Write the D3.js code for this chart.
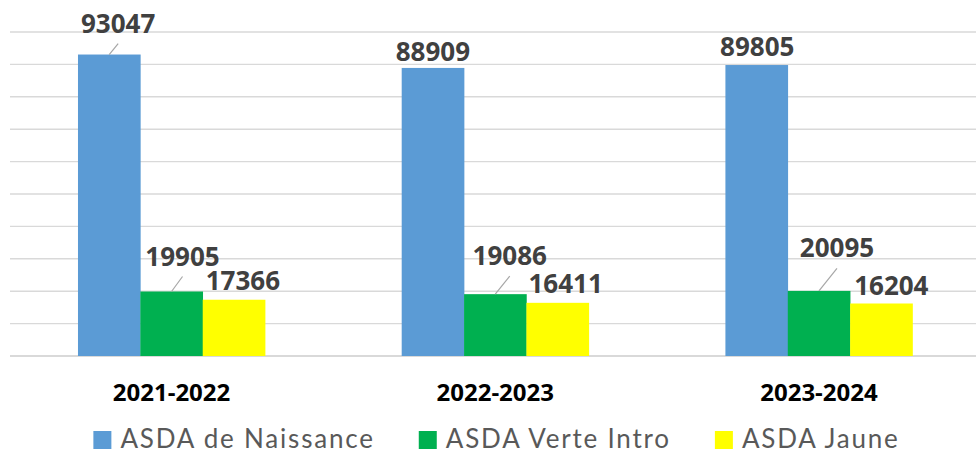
<html>
<head>
  <script src="https://d3js.org/d3.v7.min.js"></script>
  <style>
    body { margin: 0; background: #fff; }
  </style>
</head>
<body>
<script>
  // donnees
  var annees = ['2021-2022', '2022-2023', '2023-2024']
  var series = ['ASDA de Naissance', 'ASDA Verte Intro', 'ASDA Jaune']
  var naissance = [93047, 88909, 89805]
  var verte = [19905, 19086, 20095]
  var jaune = [17366, 16411, 16204]
  var graduations = [0, 10000, 20000, 30000, 40000, 50000, 60000, 70000, 80000, 90000, 100000]

  var couleurs = ['#5B9BD5', '#00B050', '#FFFF00']

  // decalage des etiquettes (dx, dy depuis le haut de la barre), trait de rappel ou non
  var decalages = [
    [[9, -22, true], [11, -26, true], [9, -10, false]],
    [[0, -7, false], [14.5, -29, true], [8, -9.5, false]],
    [[0.7, -9.5, false], [18, -33.5, true], [10, -8.5, false]]
  ]

  var largeur = 976, hauteur = 453
  var margin = { top: 32, bottom: 356, left: 10, right: 980.5 }

  var svg = d3.select('body').append('svg')
    .attr('width', largeur)
    .attr('height', hauteur)

  var escalaX = d3.scaleBand()
    .domain(annees)
    .range([margin.left, margin.right])
    .paddingInner(0.422)
    .paddingOuter(0.21)

  var escalaSerie = d3.scaleBand()
    .domain(series)
    .range([0, escalaX.bandwidth()])

  var escalaY = d3.scaleLinear()
    .domain([0, 100000])
    .range([margin.bottom, margin.top])

  // grille
  svg.append('g').selectAll('line')
    .data(graduations)
    .enter().append('line')
    .attr('x1', margin.left)
    .attr('x2', largeur)
    .attr('y1', d => escalaY(d))
    .attr('y2', d => escalaY(d))
    .attr('stroke', '#D9D9D9')
    .attr('stroke-width', d => d === 0 ? 1.8 : 1.4)

  var valeurs = [naissance, verte, jaune]
  var barres = []
  annees.forEach(function (a, i) {
    series.forEach(function (s, j) {
      barres.push({ annee: a, serie: s, valeur: valeurs[j][i], i: i, j: j })
    })
  })

  var bx = d => escalaX(d.annee) + escalaSerie(d.serie)

  svg.append('g').selectAll('rect')
    .data(barres)
    .enter().append('rect')
    .attr('x', d => bx(d))
    .attr('width', escalaSerie.bandwidth() + 0.3)
    .attr('y', d => escalaY(d.valeur))
    .attr('height', d => escalaY(0) - escalaY(d.valeur))
    .attr('fill', (d) => couleurs[d.j])

  // traits de rappel
  svg.append('g').selectAll('line')
    .data(barres.filter(d => decalages[d.i][d.j][2]))
    .enter().append('line')
    .attr('x1', d => bx(d) + escalaSerie.bandwidth() / 2)
    .attr('y1', d => escalaY(d.valeur))
    .attr('x2', d => bx(d) + escalaSerie.bandwidth() / 2 + decalages[d.i][d.j][0])
    .attr('y2', d => escalaY(d.valeur) + decalages[d.i][d.j][1] + 11)
    .attr('stroke', '#A6A6A6')
    .attr('stroke-width', 1.2)

  // etiquettes
  svg.append('g').selectAll('text')
    .data(barres)
    .enter().append('text')
    .attr('x', d => bx(d) + escalaSerie.bandwidth() / 2 + decalages[d.i][d.j][0])
    .attr('y', d => escalaY(d.valeur) + decalages[d.i][d.j][1])
    .attr('text-anchor', 'middle')
    .style('font-family', 'Open Sans')
    .style('font-weight', 'bold')
    .style('font-size', '26px')
    .attr('fill', '#404040')
    .text(d => d.valeur)

  // axe X
  var axeX = svg.append('g')
    .attr('transform', 'translate(0,' + margin.bottom + ')')
    .call(d3.axisBottom(escalaX).tickSize(0).tickPadding(0))
  axeX.select('.domain').remove()
  axeX.selectAll('text')
    .attr('dy', 0)
    .attr('y', 45)
    .style('font-family', 'Open Sans')
    .style('font-weight', 'bold')
    .style('font-size', '24px')
    .attr('fill', '#000')

  // legende
  var legende = svg.append('g')
  var x = 0
  series.forEach(function (s, j) {
    var item = legende.append('g').attr('transform', 'translate(' + x + ',0)')
    item.append('rect')
      .attr('x', 0).attr('y', 431)
      .attr('width', 18).attr('height', 18)
      .attr('fill', couleurs[j])
    var t = item.append('text')
      .attr('x', 27).attr('y', 447.5)
      .style('font-family', 'Lato')
      .style('font-size', '26px')
      .style('letter-spacing', '1.8px')
      .attr('fill', '#595959')
      .text(s)
    x += 27 + t.node().getComputedTextLength() + 44
  })
  var lw = x - 44
  legende.attr('transform', 'translate(' + (496.5 - lw / 2) + ',0)')
</script>
</body>
</html>
